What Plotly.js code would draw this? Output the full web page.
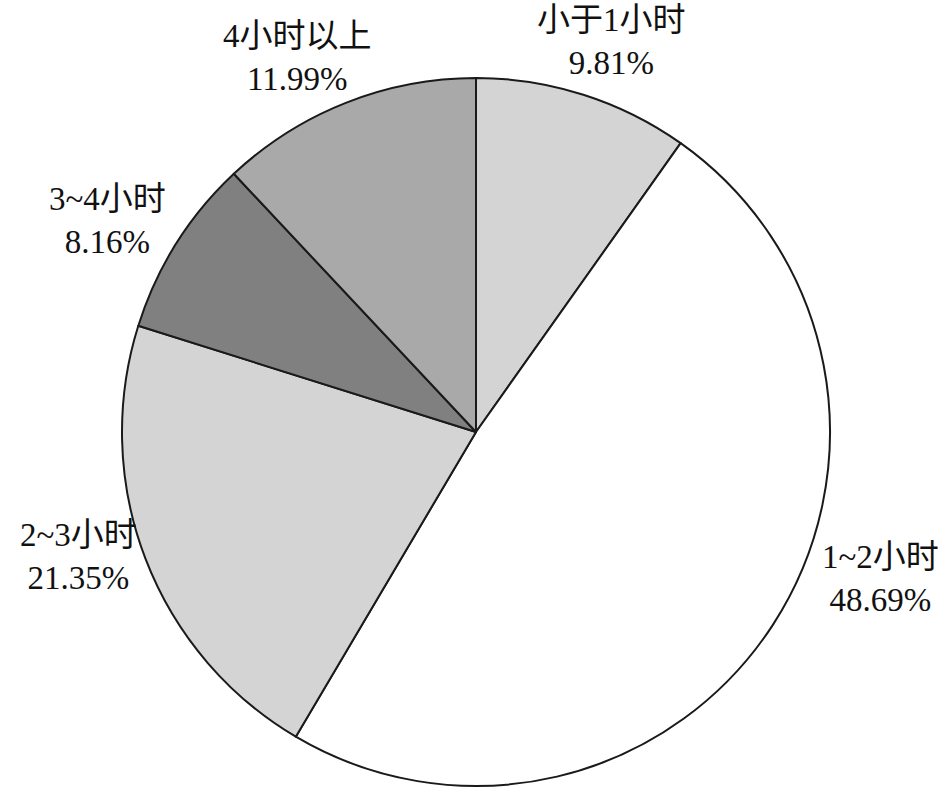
<!DOCTYPE html>
<html>
<head>
<meta charset="utf-8">
<script src="https://cdn.plot.ly/plotly-3.0.1.min.js"></script>
<style>html,body{margin:0;padding:0;background:#fff;}#chart{width:944px;height:792px;}</style>
</head>
<body>
<div id="chart"></div>
<script>
const categories = ['小于1小时', '1~2小时', '2~3小时', '3~4小时', '4小时以上'];
const values = [9.81, 48.69, 21.35, 8.16, 11.99];
const colors = ['#d4d4d4', '#ffffff', '#d4d4d4', '#808080', '#a9a9a9'];
const labelPos = [
  {x: 611, y: 42},
  {x: 880, y: 578},
  {x: 78, y: 556},
  {x: 107, y: 221},
  {x: 297, y: 57}
];
const W = 944, H = 792;
const fontFam = "Liberation Serif, Noto Sans CJK SC, serif";

const annotations = categories.map((c, i) => ({
  text: c + '<br>' + values[i].toFixed(2) + '%',
  x: labelPos[i].x / W,
  y: 1 - labelPos[i].y / H,
  xref: 'paper', yref: 'paper',
  xanchor: 'center', yanchor: 'middle',
  showarrow: false,
  align: 'center',
  font: {family: fontFam, size: 33, color: '#111111'}
}));

const trace = {
  type: 'pie',
  labels: categories,
  values: values,
  sort: false,
  direction: 'clockwise',
  rotation: 0,
  textinfo: 'none',
  hoverinfo: 'label+percent',
  marker: {colors: colors, line: {color: '#1a1a1a', width: 2}},
  domain: {x: [122 / W, 830 / W], y: [6 / H, 714 / H]}
};

Plotly.newPlot('chart', [trace], {
  width: W, height: H,
  margin: {l: 0, r: 0, t: 0, b: 0},
  showlegend: false,
  paper_bgcolor: '#ffffff',
  font: {family: fontFam},
  annotations: annotations
}, {displayModeBar: false, staticPlot: true});
</script>
</body>
</html>
